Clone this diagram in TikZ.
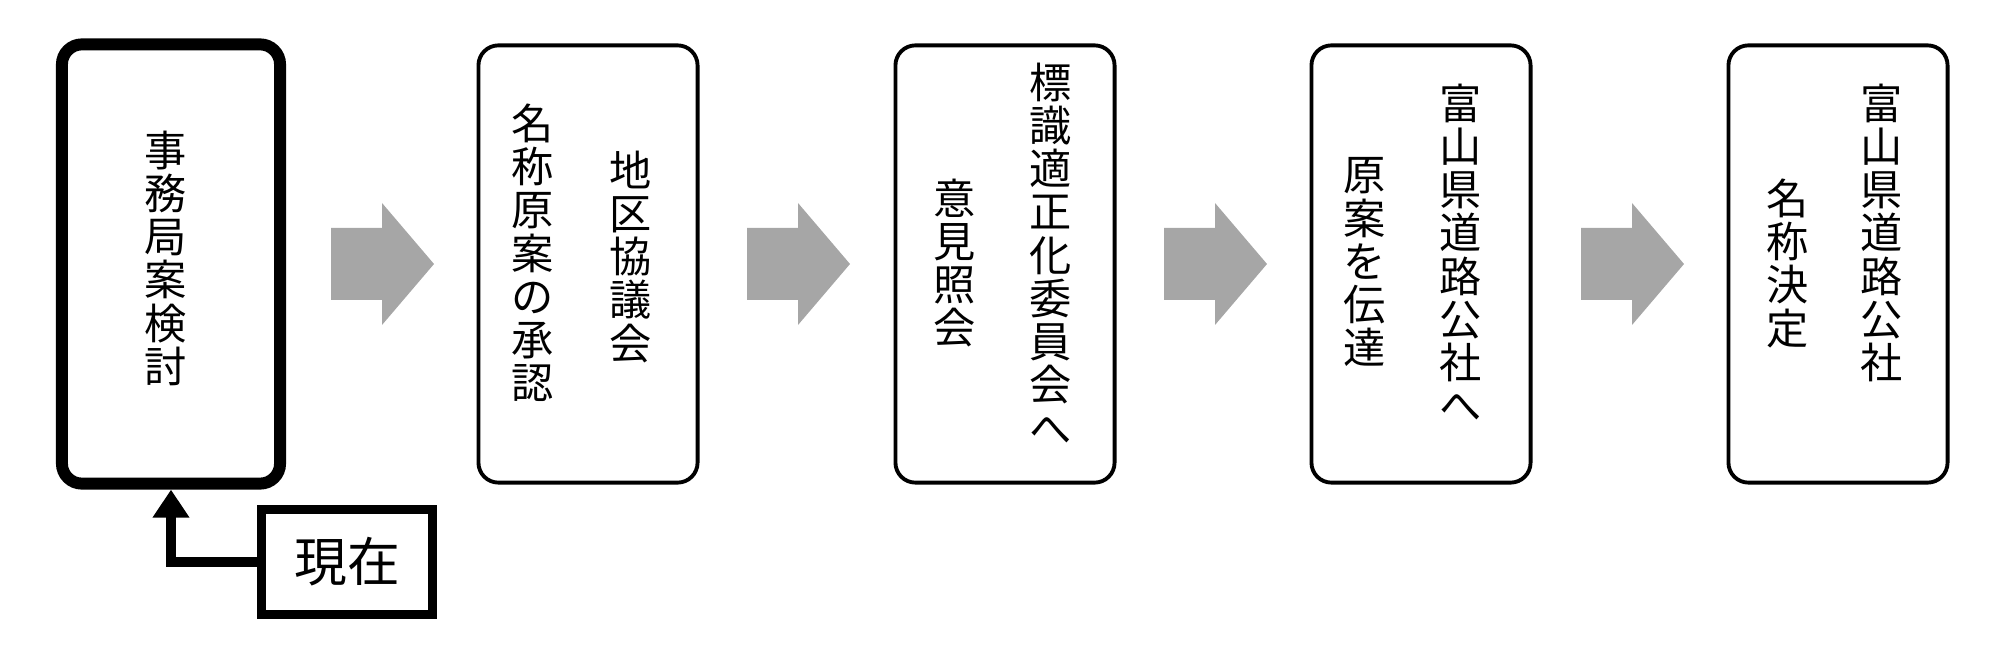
\documentclass[tikz,border=0pt]{standalone}
\usepackage{fontspec}
\newfontfamily\cjk{Noto Sans CJK JP}
\usetikzlibrary{arrows.meta}
\begin{document}
\begin{tikzpicture}[x=0.01cm, y=-0.01cm,
    stage/.style={draw, line width=1.1pt, rounded corners=0.2cm, minimum width=2.19cm, minimum height=4.37cm},
    col/.style={anchor=north, align=center, inner sep=0pt, font=\cjk\fontsize{12}{12.3}\selectfont},
    flow/.style={fill=black!35, draw=none}]
    \useasboundingbox (0,0) rectangle (2000,658);

    % Schritte
    \node[stage, line width=3.4pt, minimum width=2.18cm, minimum height=4.39cm] (b1) at (171,264) {};
    \node[stage] (b2) at (588,264) {};
    \node[stage] (b3) at (1005,264) {};
    \node[stage] (b4) at (1421,264) {};
    \node[stage] (b5) at (1838,264) {};

    % Texte (senkrecht)
    \node[col] at (166,130) {事\\務\\局\\案\\検\\討};
    \node[col] at (631,150) {地\\区\\協\\議\\会};
    \node[col] at (533,103) {名\\称\\原\\案\\の\\承\\認};
    \node[col] at (1051,62) {標\\識\\適\\正\\化\\委\\員\\会\\へ};
    \node[col] at (955,178) {意\\見\\照\\会};
    \node[col] at (1461,83) {富\\山\\県\\道\\路\\公\\社\\へ};
    \node[col] at (1365,157) {原\\案\\を\\伝\\達};
    \node[col] at (1882,83) {富\\山\\県\\道\\路\\公\\社};
    \node[col] at (1788,178) {名\\称\\決\\定};

    % Pfeile
    \foreach \x in {331,747,1164,1581}
        \fill[flow] (\x,228) -- ++(51,0) -- ++(0,-25) -- ++(52,61) -- ++(-52,61) -- ++(0,-25) -- ++(-51,0) -- cycle;

    % aktueller Stand
    \node[draw, line width=2.6pt, minimum width=1.71cm, minimum height=1.05cm, font=\cjk\fontsize{15}{17}\selectfont] (now) at (347,562) {現在};
    \draw[line width=2.6pt, -{Triangle[length=8pt, width=10pt]}] (now.west) -| (b1.south);
\end{tikzpicture}
\end{document}
